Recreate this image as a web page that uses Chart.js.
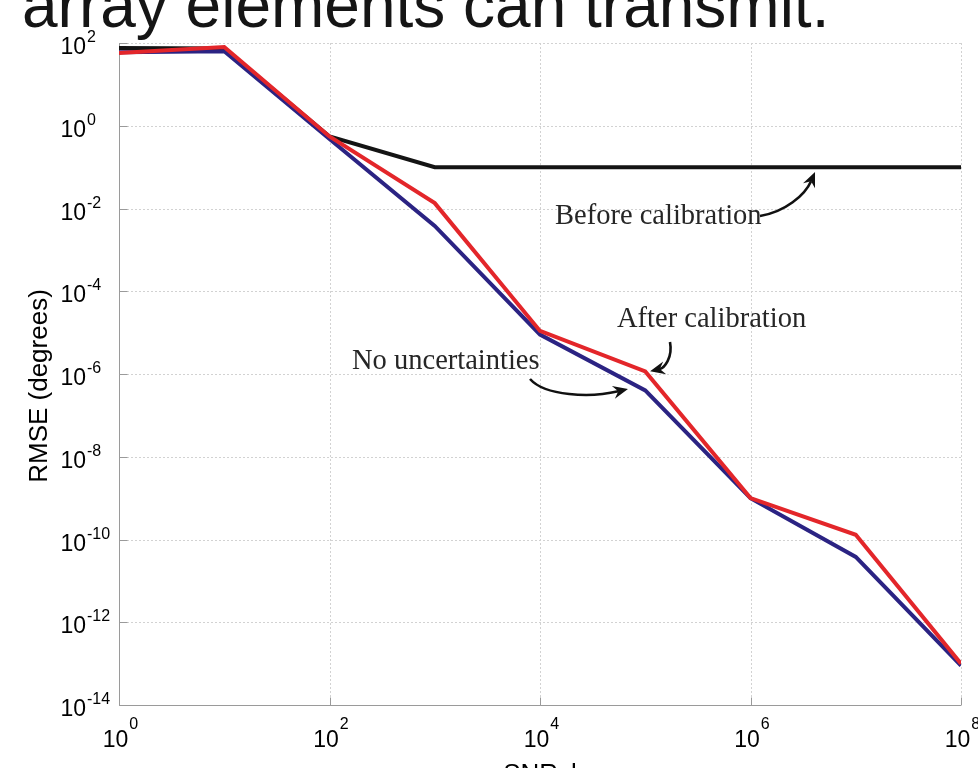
<!DOCTYPE html>
<html>
<head>
<meta charset="utf-8">
<script src="https://cdn.jsdelivr.net/npm/chart.js@4/dist/chart.umd.min.js"></script>
<style>
  html, body { margin: 0; padding: 0; background: #fff; overflow: hidden; }
  canvas { display: block; }
</style>
</head>
<body>
<canvas id="c" width="978" height="768"></canvas>
<script>
// SNR x L sample points
const snr = [1e0, 1e1, 1e2, 1e3, 1e4, 1e5, 1e6, 1e7, 1e8];
// RMSE (degrees) per method
const beforeCalibration = [76, 74, 0.55, 0.1, 0.1, 0.1, 0.1, 0.1, 0.1];
const afterCalibration  = [57, 80, 0.55, 0.0135, 1.1e-5, 1.15e-6, 1e-9, 1.3e-10, 1e-13];
const noUncertainties   = [60, 63, 0.48, 0.0038, 9e-6, 4e-7, 1e-9, 3.8e-11, 9e-14];
// decade exponents that get a labelled tick
const xTickExps = [0, 2, 4, 6, 8];
const yTickExps = [2, 0, -2, -4, -6, -8, -10, -12, -14];

const headline = 'array elements can transmit.';
const xTitle = 'SNRxl';
const yTitle = 'RMSE (degrees)';

// callouts, positions given as [log10 x, log10 y]
const callouts = [
  { text: 'Before calibration', at: [4.143, -2.205],
    path: [[6.090, -2.181], [6.328, -2.085], [6.518, -1.674], [6.613, -1.118]] },
  { text: 'After calibration', at: [4.732, -4.695],
    path: [[5.235, -5.227], [5.264, -5.613], [5.178, -5.855], [5.046, -5.935]] },
  { text: 'No uncertainties', at: [2.214, -5.710],
    path: [[3.905, -6.121], [4.048, -6.532], [4.475, -6.580], [4.836, -6.362]] }
];

const pts = ys => snr.map((x, i) => ({ x, y: ys[i] }));

const sansFont = '"Liberation Sans", Arial, sans-serif';
const serifFont = '"Liberation Serif", "DejaVu Serif", serif';

function arrowHead(ctx, x, y, ang) {
  const L = 15, W = 6.5, N = 5;
  ctx.save();
  ctx.translate(x, y);
  ctx.rotate(ang);
  ctx.beginPath();
  ctx.moveTo(0, 0);
  ctx.lineTo(-L, -W);
  ctx.lineTo(-L + N, 0);
  ctx.lineTo(-L, W);
  ctx.closePath();
  ctx.fill();
  ctx.restore();
}

const decorations = {
  id: 'decorations',
  beforeDatasetsDraw(chart) {
    const { ctx, chartArea: a, scales: { x, y } } = chart;
    ctx.save();
    // dotted grid
    ctx.strokeStyle = '#d2d2d2';
    ctx.lineWidth = 1;
    ctx.setLineDash([2, 2]);
    ctx.beginPath();
    xTickExps.forEach(e => {
      const px = Math.round(x.getPixelForValue(10 ** e)) + 0.5;
      ctx.moveTo(px, a.top); ctx.lineTo(px, a.bottom);
    });
    yTickExps.forEach(e => {
      const py = Math.round(y.getPixelForValue(10 ** e)) + 0.5;
      ctx.moveTo(a.left, py); ctx.lineTo(a.right, py);
    });
    ctx.stroke();
    ctx.setLineDash([]);
    // solid left and bottom axes with inward ticks
    ctx.strokeStyle = '#9a9a9a';
    ctx.beginPath();
    const L = Math.round(a.left) + 0.5, B = Math.round(a.bottom) + 0.5;
    ctx.moveTo(L, a.top); ctx.lineTo(L, B); ctx.lineTo(a.right, B);
    xTickExps.forEach(e => {
      const px = Math.round(x.getPixelForValue(10 ** e)) + 0.5;
      ctx.moveTo(px, B); ctx.lineTo(px, B - 8);
    });
    yTickExps.forEach(e => {
      const py = Math.round(y.getPixelForValue(10 ** e)) + 0.5;
      ctx.moveTo(L, py); ctx.lineTo(L + 8, py);
    });
    ctx.stroke();
    ctx.restore();
  },
  afterDatasetsDraw(chart) {
    const { ctx, scales: { x, y } } = chart;
    const P = ([lx, ly]) => [x.getPixelForValue(10 ** lx), y.getPixelForValue(10 ** ly)];
    ctx.save();
    ctx.fillStyle = '#000';
    ctx.textBaseline = 'alphabetic';

    // x tick labels: 10 with superscript exponent
    xTickExps.forEach(e => {
      const px = x.getPixelForValue(10 ** e);
      ctx.font = '23px ' + sansFont;
      const wb = ctx.measureText('10').width;
      ctx.font = '16px ' + sansFont;
      const we = ctx.measureText(String(e)).width;
      const left = px - (wb + we) / 2 + 1;
      ctx.font = '23px ' + sansFont;
      ctx.fillText('10', left, 747);
      ctx.font = '16px ' + sansFont;
      ctx.fillText(String(e), left + wb + 1, 729);
    });
    // y tick labels
    yTickExps.forEach(e => {
      const py = y.getPixelForValue(10 ** e);
      ctx.font = '23px ' + sansFont;
      ctx.textAlign = 'right';
      ctx.fillText('10', 86, py + 11);
      ctx.font = '16px ' + sansFont;
      ctx.textAlign = 'left';
      ctx.fillText(String(e), 87, py - 1);
    });

    // axis titles
    ctx.font = '26px ' + sansFont;
    ctx.textAlign = 'center';
    ctx.fillText(xTitle, (chart.chartArea.left + chart.chartArea.right) / 2, 782);
    ctx.save();
    ctx.translate(47, 386);
    ctx.rotate(-Math.PI / 2);
    ctx.fillText(yTitle, 0, 0);
    ctx.restore();

    // headline across the top
    ctx.font = '64px ' + sansFont;
    ctx.textAlign = 'left';
    ctx.fillStyle = '#151515';
    ctx.fillText(headline, 22, 27);

    // callouts with curved arrows
    ctx.strokeStyle = '#111';
    ctx.lineWidth = 2.6;
    callouts.forEach(c => {
      const [tx, ty] = P(c.at);
      ctx.font = '28.5px ' + serifFont;
      ctx.textAlign = 'left';
      ctx.textBaseline = 'middle';
      ctx.fillStyle = '#262626';
      ctx.fillText(c.text, tx, ty);
      const [p0, p1, p2, p3] = c.path.map(P);
      const ang = Math.atan2(p3[1] - p2[1], p3[0] - p2[0]);
      const back = 10;
      const ex = p3[0] - back * Math.cos(ang), ey = p3[1] - back * Math.sin(ang);
      ctx.beginPath();
      ctx.moveTo(p0[0], p0[1]);
      ctx.bezierCurveTo(p1[0], p1[1], p2[0], p2[1], ex, ey);
      ctx.stroke();
      ctx.fillStyle = '#111';
      arrowHead(ctx, p3[0], p3[1], ang);
    });
    ctx.restore();
  }
};

new Chart(document.getElementById('c'), {
  type: 'line',
  data: {
    datasets: [
      { label: 'Before calibration', data: pts(beforeCalibration), borderColor: '#141414', order: 3 },
      { label: 'No uncertainties', data: pts(noUncertainties), borderColor: '#2b2383', order: 2 },
      { label: 'After calibration', data: pts(afterCalibration), borderColor: '#e3262a', order: 1 }
    ]
  },
  options: {
    responsive: false,
    animation: false,
    devicePixelRatio: 1,
    layout: { padding: { left: 119, right: 17, top: 43, bottom: 63 } },
    elements: {
      line: { borderWidth: 4, tension: 0, borderJoinStyle: 'miter', fill: false },
      point: { radius: 0 }
    },
    plugins: { legend: { display: false }, tooltip: { enabled: false } },
    scales: {
      x: { type: 'logarithmic', min: 1, max: 1e8, display: false },
      y: { type: 'logarithmic', min: 1e-14, max: 1e2, display: false }
    }
  },
  plugins: [decorations]
});
</script>
</body>
</html>
